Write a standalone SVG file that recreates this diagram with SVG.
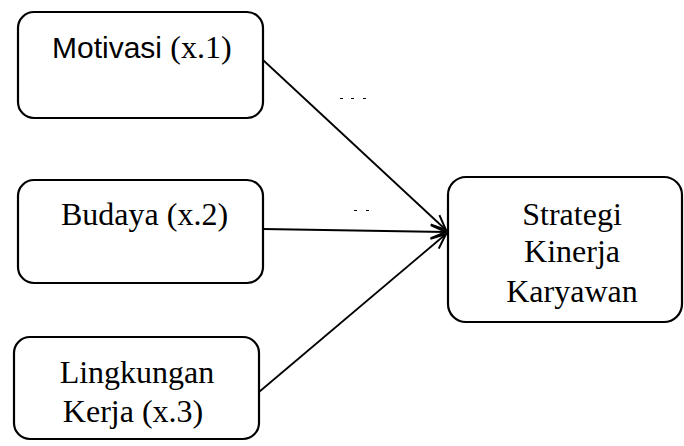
<svg xmlns="http://www.w3.org/2000/svg" width="684" height="446" viewBox="0 0 684 446">
<defs>
<style>
.box{fill:#fff;stroke:#000;stroke-width:2.2}
.serif{font-family:"Liberation Serif","Times New Roman",serif;font-size:32px;fill:#000}
.sans{font-family:"Liberation Sans",Arial,sans-serif;font-size:30px;fill:#000}
.conn{stroke:#000;stroke-width:1.8;fill:none;marker-end:url(#arr)}
.dash{stroke:#000;stroke-width:1}
</style>
<marker id="arr" markerUnits="userSpaceOnUse" markerWidth="18" markerHeight="16" refX="16" refY="8" orient="auto">
<path d="M1,1.5 L16,8 L1,14.5" fill="none" stroke="#000" stroke-width="2"/>
</marker>
</defs>
<rect width="684" height="446" fill="#fff"/>
<g id="connectors">
<line class="conn" x1="263" y1="60" x2="446" y2="230"/>
<line class="conn" x1="263" y1="229" x2="446" y2="232"/>
<line class="conn" x1="259" y1="392" x2="446" y2="234"/>
<line class="dash" x1="340" y1="98.5" x2="343" y2="98.5"/>
<line class="dash" x1="351" y1="98.5" x2="354" y2="98.5"/>
<line class="dash" x1="363" y1="98.5" x2="366" y2="98.5"/>
<line class="dash" x1="354" y1="210.5" x2="357" y2="210.5"/>
<line class="dash" x1="366" y1="210.5" x2="369" y2="210.5"/>
</g>
<g id="motivasi">
<rect class="box" x="18" y="12" width="245" height="106" rx="16"/>
<text x="52" y="58"><tspan class="sans">Motivasi </tspan><tspan class="serif">(x.1)</tspan></text>
</g>
<g id="budaya">
<rect class="box" x="18" y="180" width="245" height="103" rx="16"/>
<text class="serif" x="144.5" y="225" text-anchor="middle">Budaya (x.2)</text>
</g>
<g id="lingkungan">
<rect class="box" x="14" y="337" width="245" height="102" rx="16"/>
<text class="serif" x="137" y="383" text-anchor="middle">Lingkungan</text>
<text class="serif" x="133" y="422" text-anchor="middle">Kerja (x.3)</text>
</g>
<g id="strategi">
<rect class="box" x="448" y="177" width="234" height="145" rx="18"/>
<text class="serif" x="572" y="225" text-anchor="middle">Strategi</text>
<text class="serif" x="572" y="262" text-anchor="middle">Kinerja</text>
<text class="serif" x="572" y="302" text-anchor="middle">Karyawan</text>
</g>
</svg>
